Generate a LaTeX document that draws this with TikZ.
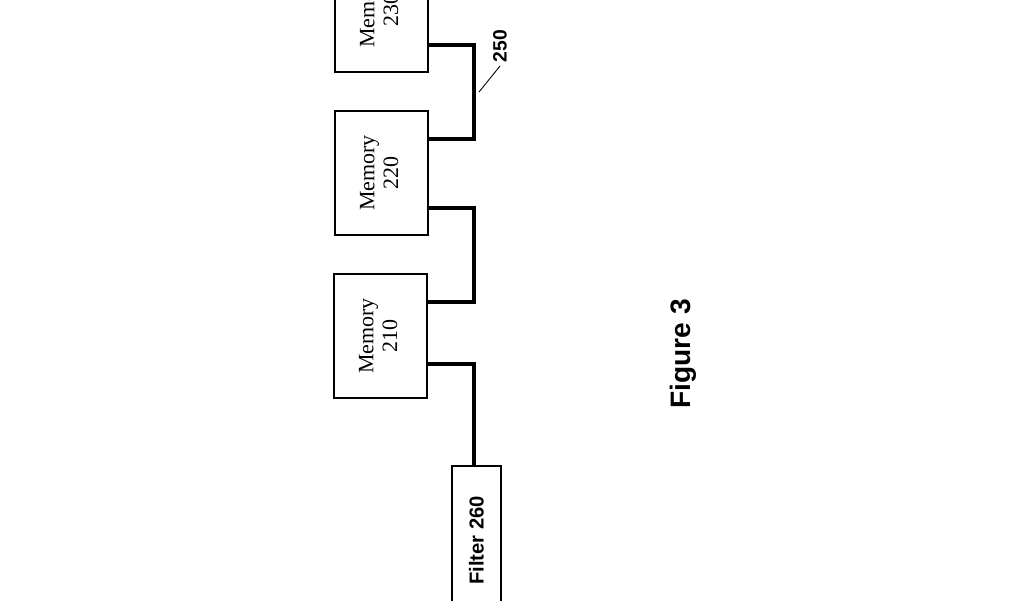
\documentclass[tikz,border=0pt]{standalone}
\usepackage{fontspec}
\setmainfont{Liberation Serif}
\newfontfamily\labelfont{Liberation Sans}
\usepackage{graphicx}
\usetikzlibrary{positioning,calc}
\tikzset{
  membox/.style={draw, line width=0.8pt, minimum width=1.86cm, minimum height=2.48cm, inner sep=1pt,
                 font=\fontsize{12.5}{13.5}\selectfont},
  filtbox/.style={draw, line width=0.8pt, minimum width=0.98cm, minimum height=2.98cm, inner sep=1pt,
                  font=\labelfont\bfseries\fontsize{11.5}{13}\selectfont},
  bus/.style={line width=2.3pt, line join=miter},
  leader/.style={line width=0.5pt},
  lbl/.style={font=\labelfont\bfseries\fontsize{11}{13}\selectfont, inner sep=2pt}
}
\newcommand{\memtext}[1]{\rotatebox{90}{\begin{tabular}{@{}c@{}}Memory\\#1\end{tabular}}}
\begin{document}
\begin{tikzpicture}[x=0.02cm, y=-0.02cm]
\useasboundingbox (0,0) rectangle (1024,600);
\clip (0,0) rectangle (1024,600);
\fill[white] (0,0) rectangle (1024,600);
\node[membox] (m230) at (381.5,10) {\memtext{230}};
\node[membox] (m220) at (381.5,173) {\memtext{220}};
\node[membox] (m210) at (380.5,336) {\memtext{210}};
\node[filtbox] (f260) at (476.5,540.5) {\rotatebox{90}{Filter 260}};
\draw[bus] (m230.east |- 0,45) -| (474,139) -- (m220.east |- 0,139);
\draw[bus] (m220.east |- 0,208) -| (474,302) -- (m210.east |- 0,302);
\draw[bus] (m210.east |- 0,364) -| (f260.north -| 474,0);
\node[lbl, rotate=90] (n250) at (500,46) {250};
\coordinate (t250) at (479,92);
\draw[leader] (t250) -- (n250.west);
\node[font=\labelfont\bfseries\fontsize{16}{18}\selectfont, rotate=90] (fig) at (683,354) {Figure 3};
\end{tikzpicture}
\end{document}
